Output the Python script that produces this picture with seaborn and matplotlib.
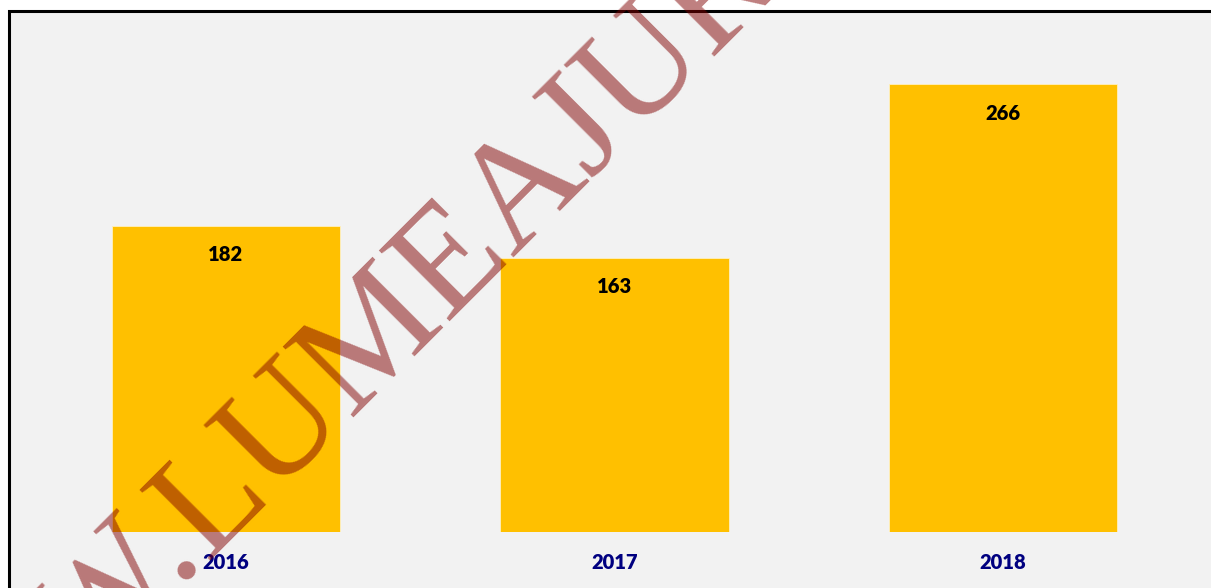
import matplotlib
matplotlib.use("Agg")
import matplotlib.pyplot as plt
from matplotlib.patches import Rectangle
import seaborn as sns
import pandas as pd

# 資料
years = ["2016", "2017", "2018"]
values = [182, 163, 266]

W, H = 1211, 588
BAR_COLOR = "#ffc000"
BG_COLOR = "#f2f2f2"

sns.set_theme(style="white")
plt.rcParams["font.family"] = ["Lato", "DejaVu Sans"]

fig = plt.figure(figsize=(W / 100, H / 100), dpi=100)
fig.patch.set_facecolor("white")

# 圖表區外框（右、下超出畫面）
frame = Rectangle((9 / W, -0.1), 1.2, 1 - 11 / H + 0.1, transform=fig.transFigure,
                  facecolor=BG_COLOR, edgecolor="black", linewidth=2.2, zorder=-1)
fig.patches.append(frame)

ax = fig.add_axes([31.75 / W, 56 / H, 1165.5 / W, 300 * 1.683 / H])
ax.patch.set_alpha(0)

df = pd.DataFrame({"year": years, "value": values})
sns.barplot(data=df, x="year", y="value", color=BAR_COLOR, saturation=1,
            width=0.587, ax=ax, edgecolor="#fff0c0", linewidth=0.6)

ax.set_ylim(0, 300)
ax.set_xlim(-0.5, 2.5)
ax.set_yticks([])
ax.set_xlabel("")
ax.set_ylabel("")
for s in ax.spines.values():
    s.set_visible(False)

# 數值標籤
for i, v in enumerate(values):
    ax.annotate(str(v), (i, v), xytext=(0, -29), textcoords="offset pixels",
                ha="center", va="center", fontsize=14.5, fontweight="heavy", color="black")

ax.tick_params(axis="x", length=0, pad=15, labelsize=14.5, labelcolor="#000080")
for lbl in ax.get_xticklabels():
    lbl.set_fontweight("heavy")

# 浮水印
px, py = 206, 561
wm = dict(transform=fig.transFigure, rotation=45, rotation_mode="anchor",
          va="baseline", fontsize=110, family="Liberation Serif",
          color="#800000", alpha=0.5, zorder=10)
fig.text(px / W, 1 - py / H, "WWW.", ha="right", **wm)
fig.text(px / W, 1 - py / H, "LUMEAJURIDICA.RO", ha="left", **wm)

fig.savefig("out.png", dpi=100)
